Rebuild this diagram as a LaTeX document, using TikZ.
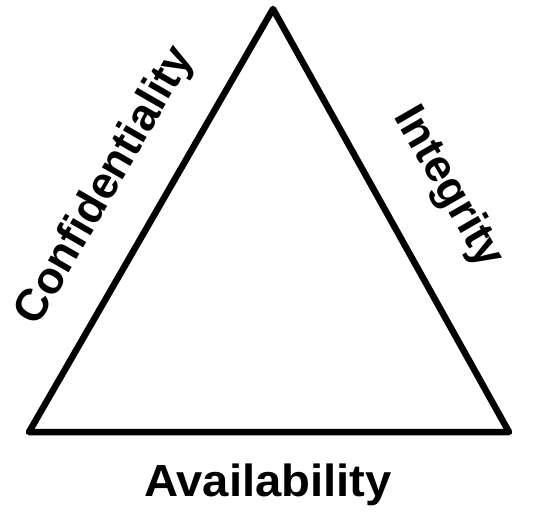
\documentclass[tikz,border=0pt]{standalone}
\usepackage{fontspec}
\setmainfont{Liberation Sans}
\usetikzlibrary{calc}

\begin{document}
\begin{tikzpicture}[
    x=1pt, y=-1pt,
    edge/.style={draw, line width=6.5pt, line join=round, line cap=round},
    side/.style={font=\fontsize{45}{54}\selectfont\bfseries, inner sep=0pt}
]
\useasboundingbox (0,0) rectangle (533,512);

% ----------------------------------------------------------
% CORNERS
% ----------------------------------------------------------

\coordinate (apex) at (273,9);
\coordinate (left) at (29,432);
\coordinate (right) at (509,432);

\draw[edge] (apex) -- (left) -- (right) -- cycle;

% ----------------------------------------------------------
% LABELS
% ----------------------------------------------------------

\node[side, rotate=60] (conf) at (106,186) {Confidentiality};
\node[side, rotate=-60] (integ) at (448,188) {Integrity};
\node[side, anchor=base, xscale=1.05] (avail) at (268,496) {Availability};

\end{tikzpicture}
\end{document}
